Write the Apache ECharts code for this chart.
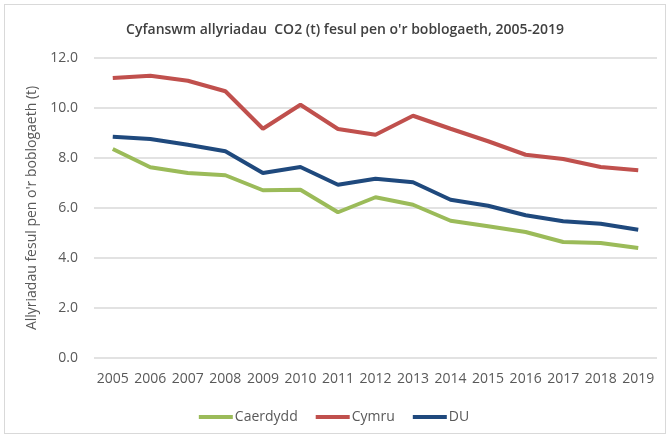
<!DOCTYPE html>
<html>
<head>
<meta charset="utf-8">
<script src="https://cdn.jsdelivr.net/npm/echarts@6/dist/echarts.min.js"></script>
<style>
  html, body { margin: 0; padding: 0; background: #fff; }
  #frame { position: absolute; left: 4px; top: 4px; width: 662px; height: 430px; border: 1px solid #d9d9d9; box-sizing: border-box; }
  #chart { width: 668px; height: 436px; position: absolute; left: 0; top: 0; }
</style>
</head>
<body>
<div id="frame"></div>
<div id="chart"></div>
<script>
const years = ['2005', '2006', '2007', '2008', '2009', '2010', '2011', '2012', '2013', '2014', '2015', '2016', '2017', '2018', '2019']
const caerdydd = [8.36, 7.63, 7.40, 7.31, 6.71, 6.73, 5.83, 6.43, 6.13, 5.49, 5.27, 5.04, 4.64, 4.60, 4.40]
const cymru = [11.20, 11.29, 11.09, 10.67, 9.17, 10.13, 9.16, 8.93, 9.69, 9.17, 8.67, 8.13, 7.96, 7.64, 7.51]
const du = [8.85, 8.76, 8.53, 8.27, 7.40, 7.64, 6.93, 7.17, 7.03, 6.33, 6.09, 5.71, 5.47, 5.37, 5.13]

const font = 'Open Sans'
const chart = echarts.init(document.getElementById('chart'))

const lineSeries = (name, data, color) => ({
  name,
  type: 'line',
  data,
  symbol: 'none',
  lineStyle: { width: 4, color },
  itemStyle: { color }
})

chart.setOption({
  animation: false,
  textStyle: { fontFamily: font },
  title: {
    text: 'Cyfanswm allyriadau  CO2 (t) fesul pen o\'r boblogaeth, 2005-2019',
    left: 340,
    textAlign: 'center',
    top: 18,
    textStyle: { fontSize: 14, fontWeight: 600, color: '#404040', fontFamily: font }
  },
  legend: {
    bottom: 7,
    left: 'center',
    itemWidth: 34,
    itemHeight: 4,
    itemGap: 18,
    icon: 'rect',
    textStyle: { fontSize: 14, color: '#595959', fontFamily: font, padding: [0, 0, 0, -3] },
    data: ['Caerdydd', 'Cymru', 'DU']
  },
  grid: { left: 94, right: 11, top: 58, bottom: 78 },
  xAxis: {
    type: 'category',
    data: years,
    axisTick: { show: false },
    axisLine: { show: false },
    axisLabel: { fontSize: 14, color: '#595959', margin: 14, interval: 0 }
  },
  yAxis: {
    type: 'value',
    min: 0,
    max: 12,
    interval: 2,
    name: 'Allyriadau fesul pen o\'r boblogaeth (t)',
    nameLocation: 'middle',
    nameGap: 55,
    nameTextStyle: { fontSize: 14, color: '#595959' },
    axisLabel: { fontSize: 14, color: '#595959', margin: 16, formatter: v => v.toFixed(1) },
    splitLine: { lineStyle: { color: '#d9d9d9', width: 1.5 } }
  },
  series: [
    lineSeries('Caerdydd', caerdydd, '#9bbb59'),
    lineSeries('Cymru', cymru, '#c0504d'),
    lineSeries('DU', du, '#1f497d')
  ]
})
</script>
</body>
</html>
